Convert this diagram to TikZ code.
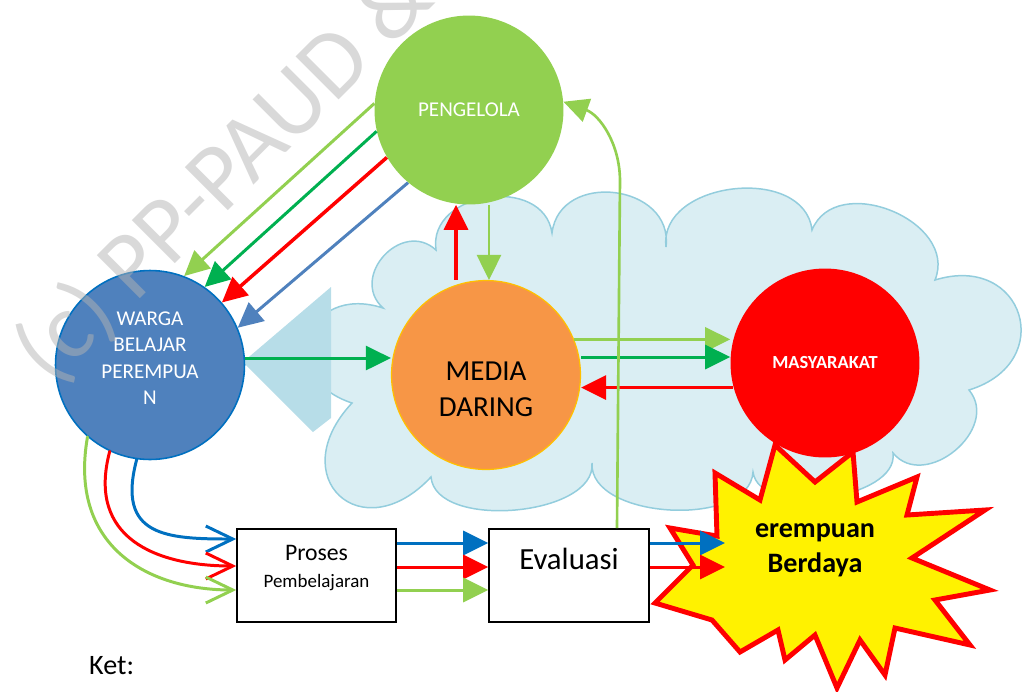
\documentclass[tikz,border=0pt]{standalone}
\usepackage{fontspec}
\setmainfont{Carlito}
\usetikzlibrary{arrows.meta}
\definecolor{lgreen}{HTML}{92D050}
\definecolor{dgreen}{HTML}{00B050}
\definecolor{wblue}{HTML}{4F81BD}
\definecolor{cblue}{HTML}{0070C0}
\definecolor{dorange}{HTML}{F79646}
\definecolor{gold}{HTML}{FFC000}
\definecolor{cloudfill}{HTML}{DAEEF3}
\definecolor{cloudline}{HTML}{93CDDD}
\definecolor{wedgeblue}{HTML}{B7DDE8}
\definecolor{wmgray}{HTML}{B3B3B3}

\begin{document}
\begin{tikzpicture}[x=0.02cm, y=0.02cm,
    every node/.style={font=\fontsize{12}{15}\selectfont},
    bubble/.style={circle, minimum size=3.78cm, inner sep=0pt},
    panel/.style={draw, line width=0.9pt, fill=white, minimum width=3.18cm, minimum height=1.86cm, inner sep=0pt},
    burst/.style={fill=yellow, draw=red, line width=2.8pt, line join=miter},
    flow/.style={-{Triangle[length=0.5cm,width=0.48cm]}, line width=1.7pt},
    feed/.style={-{Straight Barb[length=0.54cm,width=0.52cm]}, line width=1.7pt, line cap=round}
]
\useasboundingbox (0,0) rectangle (1022,-691);

\draw[fill=cloudfill, draw=cloudline, line width=0.85pt]
    (352,-403) to[bend left=90, looseness=2.1] (383,-308)
    to[bend left=90, looseness=1.5] (436,-250)
    to[bend left=90, looseness=1.3] (552,-233)
    to[bend left=90, looseness=1.42] (666,-247)
    to[bend left=90, looseness=1.16] (812,-230)
    to[bend left=90, looseness=1.23] (935,-280)
    to[bend left=90, looseness=2.07] (969,-390)
    to[bend left=90, looseness=1.3] (893,-453)
    to[bend left=90, looseness=0.85] (753,-472)
    to[bend left=90, looseness=0.9] (592,-463)
    to[bend left=90, looseness=0.85] (431,-477)
    to[bend left=90, looseness=2.4] (352,-403) -- cycle;
\fill[wedgeblue] (243,-362) -- (331,-287) -- (331,-418) -- (313,-432) -- cycle;

\draw[burst] (670,-528) -- (717,-536) -- (715,-473) -- (760,-500) -- (775,-445)
    -- (815,-482) -- (853,-452) -- (857,-502) -- (917,-477) -- (907,-515)
    -- (985,-510) -- (912,-558) -- (990,-590) -- (935,-600) -- (970,-645)
    -- (895,-628) -- (885,-675) -- (860,-640) -- (837,-688) -- (815,-635)
    -- (785,-660) -- (778,-630) -- (740,-652) -- (712,-620) -- (655,-603)
    -- (693,-565) -- cycle;
\node[font=\bfseries\fontsize{16}{19.8}\selectfont, align=center] (berdaya) at (815,-550) {erempuan\\Berdaya};
\coordinate (burstin) at (725,-555);

\node[bubble, fill=lgreen, text=white] (peng) at (469,-110) {PENGELOLA};
\node[bubble, fill=wblue, draw=cblue, line width=0.9pt,
    label={[text=white, align=center, yshift=0.14cm]center:WARGA\\BELAJAR\\PEREMPUA\\N}] (warga) at (150,-365) {};
\node[bubble, fill=dorange, draw=gold, line width=0.7pt,
    label={[align=center, yshift=-0.28cm, font=\fontsize{16.5}{20.4}\selectfont]center:MEDIA\\DARING}] (media) at (486,-375) {};
\node[bubble, fill=red, text=white, font=\bfseries\fontsize{10.5}{12}\selectfont] (masy) at (825,-363) {MASYARAKAT};

\node[panel, label={[align=center, yshift=0.15cm]center:\fontsize{13.5}{16}\selectfont Proses\\\fontsize{10.8}{14}\selectfont Pembelajaran}] (proses) at (316.5,-575.5) {};
\node[panel, minimum width=3.2cm, label={[yshift=0.33cm, font=\fontsize{17.5}{20}\selectfont]center:Evaluasi}] (eval) at (569,-575.5) {};

\draw[flow, lgreen] (peng.176) -- (warga.69);
\draw[flow, dgreen] (peng.193) -- (warga.55);
\draw[flow, red, line width=2pt] (peng.210) -- (warga.41);
\draw[flow, wblue] (peng.230) -- (warga.23);

\draw[flow, red, line width=2pt] ([xshift=-0.6cm]media.north) -- ([xshift=-0.6cm]media.north |- peng.south);
\draw[flow, lgreen] ([xshift=0.4cm]peng.south) -- ([xshift=0.4cm]peng.south |- media.north);

\draw[flow, dgreen] ([yshift=0.14cm]warga.east) -- ([yshift=0.14cm]warga.east -| media.west);
\draw[flow, lgreen] (media.22.5) -- (media.22.5 -| masy.west);
\draw[flow, dgreen] ([yshift=0.36cm]media.east) -- ([yshift=0.36cm]media.east -| masy.west);
\draw[flow, red] (masy.195) -- (masy.195 -| media.east);

\draw[flow, lgreen, line width=1.5pt] ([xshift=0.96cm]eval.north) -- ++(3,347) to[out=90, in=-20] (peng.5);

\draw[feed, cblue] (warga.262) to[out=255, in=180, out distance=1.6cm, in distance=1.4cm] ([yshift=0.73cm]proses.west);
\draw[feed, red] (warga.245) to[out=255, in=180, out distance=1.8cm, in distance=1.6cm] ([yshift=0.19cm]proses.west);
\draw[feed, lgreen] (warga.229) to[out=260, in=180, out distance=2.2cm, in distance=1.8cm] ([yshift=-0.29cm]proses.west);

\draw[flow, cblue] ([yshift=0.65cm]proses.east) -- ([yshift=0.65cm]proses.east -| eval.west);
\draw[flow, red] ([yshift=0.17cm]proses.east) -- ([yshift=0.17cm]proses.east -| eval.west);
\draw[flow, lgreen] ([yshift=-0.29cm]proses.east) -- ([yshift=-0.29cm]proses.east -| eval.west);
\draw[flow, cblue] ([yshift=0.65cm]eval.east) -- ([yshift=0.65cm]eval.east -| burstin);
\draw[flow, red] ([yshift=0.17cm]eval.east) -- ([yshift=0.17cm]eval.east -| burstin);

\node[anchor=west, font=\fontsize{16}{19}\selectfont] (ket) at (83,-666) {Ket:};

\node[rotate=45, text=wmgray, opacity=0.5, font=\fontsize{54}{62}\selectfont] (mark) at (224,-175) {(c) PP-PAUD \&};
\end{tikzpicture}
\end{document}
